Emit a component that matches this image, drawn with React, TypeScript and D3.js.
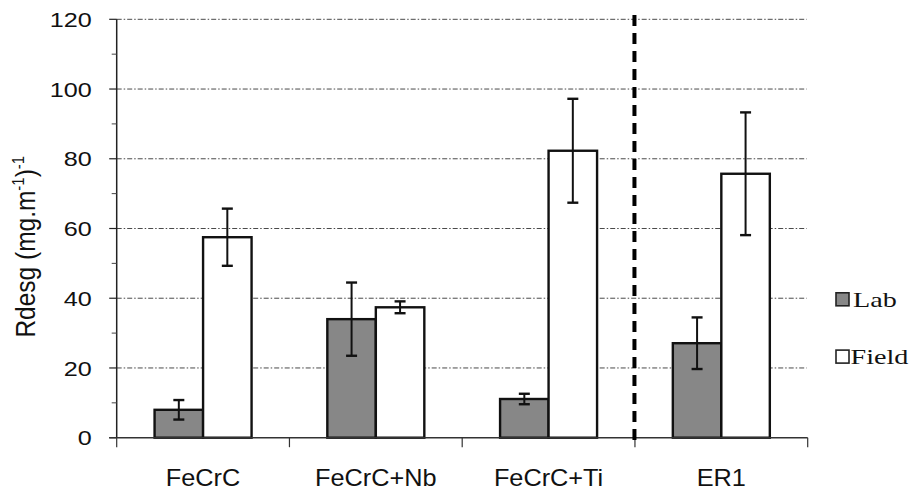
import React from "react";
import * as d3 from "d3";

const categories = ["FeCrC", "FeCrC+Nb", "FeCrC+Ti", "ER1"];
const seriesNames = ["Lab", "Field"];
const labValues = [8, 34, 11.1, 27.1];
const labErrors = [2.8, 10.5, 1.5, 7.4];
const fieldValues = [57.5, 37.4, 82.3, 75.7];
const fieldErrors = [8.2, 1.7, 14.9, 17.6];
const yTicks = [0, 20, 40, 60, 80, 100, 120];
const yMinorTicks = [10, 30, 50, 70, 90, 110];
const yLabel = "Rdesg (mg.m";

const W = 913;
const H = 491;
const left = 116.7;
const right = 807.7;
const top = 19.3;
const bottom = 437.7;

export default function App() {
  const x = d3.scaleBand<string>().domain(categories).range([left, right]).paddingInner(0).paddingOuter(0);
  const x1 = d3.scaleBand<string>().domain(seriesNames).range([0, x.bandwidth()]).paddingInner(0).paddingOuter(0.781);
  const y = d3.scaleLinear().domain([0, 120]).range([bottom, top]);

  const series = [
    { name: "Lab", values: labValues, errors: labErrors, fill: "#878787" },
    { name: "Field", values: fieldValues, errors: fieldErrors, fill: "#ffffff" },
  ];

  const boundaries = [...categories.map((c) => x(c) as number), right];
  const dividerX = x("ER1") as number;

  return (
    <svg width={W} height={H} style={{ position: "absolute", left: 0, top: 0, background: "#fff" }}>
      <rect x={0} y={0} width={W} height={H} fill="#fff" />
      {/* gridlines */}
      {yTicks.filter((t) => t > 0).map((t) => (
        <line key={"g" + t} x1={left} x2={right - 1} y1={y(t)} y2={y(t)} stroke="#4a4a4a" strokeWidth={1} strokeDasharray="5,2,1.5,2" />
      ))}
      {/* bars */}
      {series.map((s) =>
        categories.map((c, i) => {
          const bx = (x(c) as number) + (x1(s.name) as number);
          return (
            <rect key={s.name + c} x={bx} y={y(s.values[i])} width={x1.bandwidth()} height={y(0) - y(s.values[i])} fill={s.fill} stroke="#111" strokeWidth={2.4} />
          );
        })
      )}
      {/* error bars */}
      {series.map((s) =>
        categories.map((c, i) => {
          const cx = (x(c) as number) + (x1(s.name) as number) + x1.bandwidth() / 2;
          const hi = y(s.values[i] + s.errors[i]);
          const lo = y(s.values[i] - s.errors[i]);
          return (
            <g key={"e" + s.name + c} stroke="#111">
              <line x1={cx} x2={cx} y1={hi} y2={lo} strokeWidth={2} />
              <line x1={cx - 5.5} x2={cx + 5.5} y1={hi} y2={hi} strokeWidth={2.4} />
              <line x1={cx - 5.5} x2={cx + 5.5} y1={lo} y2={lo} strokeWidth={2.4} />
            </g>
          );
        })
      )}
      {/* y axis */}
      <line x1={left} x2={left} y1={top} y2={bottom} stroke="#222" strokeWidth={1.5} />
      {yTicks.map((t) => (
        <line key={"t" + t} x1={left - 7.5} x2={left} y1={y(t)} y2={y(t)} stroke="#222" strokeWidth={1.2} />
      ))}
      {yMinorTicks.map((t) => (
        <line key={"m" + t} x1={left - 5} x2={left} y1={y(t)} y2={y(t)} stroke="#444" strokeWidth={1} />
      ))}
      {yTicks.map((t) => (
        <text key={"l" + t} transform={`translate(91.7,${y(t)}) scale(1.2,1)`} textAnchor="end" dy="0.36em" fontFamily="Liberation Sans, Arial, sans-serif" fontSize={21} fill="#111">
          {t}
        </text>
      ))}
      {/* x axis */}
      <line x1={left - 7.5} x2={right} y1={bottom} y2={bottom} stroke="#333" strokeWidth={1.5} />
      {boundaries.map((b, i) => (
        <line key={"xb" + i} x1={b} x2={b} y1={bottom} y2={bottom + 9.5} stroke="#333" strokeWidth={1.2} />
      ))}
      {categories.map((c) => (
        <text key={"c" + c} transform={`translate(${(x(c) as number) + x.bandwidth() / 2},486) scale(1.1,1)`} textAnchor="middle" fontFamily="Liberation Sans, Arial, sans-serif" fontSize={23} fill="#111">
          {c}
        </text>
      ))}
      {/* divider */}
      <line x1={dividerX - 0.5} x2={dividerX - 0.5} y1={15} y2={440} stroke="#000" strokeWidth={4} strokeDasharray="11,7" />
      {/* y label */}
      <text transform="translate(35,246.7) rotate(-90) scale(1,1.15)" textAnchor="middle" fontFamily="Liberation Sans, Arial, sans-serif" fontSize={24.5} fill="#111">
        {yLabel}
        <tspan fontSize={15} dy={-10}>-1</tspan>
        <tspan fontSize={24.5} dy={10}>)</tspan>
        <tspan fontSize={15} dy={-10}>-1</tspan>
      </text>
      {/* legend */}
      {series.map((s, i) => {
        const ly = 299.3 + i * 57.3;
        return (
          <g key={"lg" + s.name}>
            <rect x={836} y={ly - 6.5} width={13} height={13} fill={s.fill} stroke="#222" strokeWidth={1.6} />
            <text transform={`translate(${i === 0 ? 853 : 850.5},${ly + 7.4}) scale(1.28,1)`} fontFamily="Liberation Serif, Times New Roman, serif" fontSize={22} fill="#111">
              {s.name}
            </text>
          </g>
        );
      })}
    </svg>
  );
}
